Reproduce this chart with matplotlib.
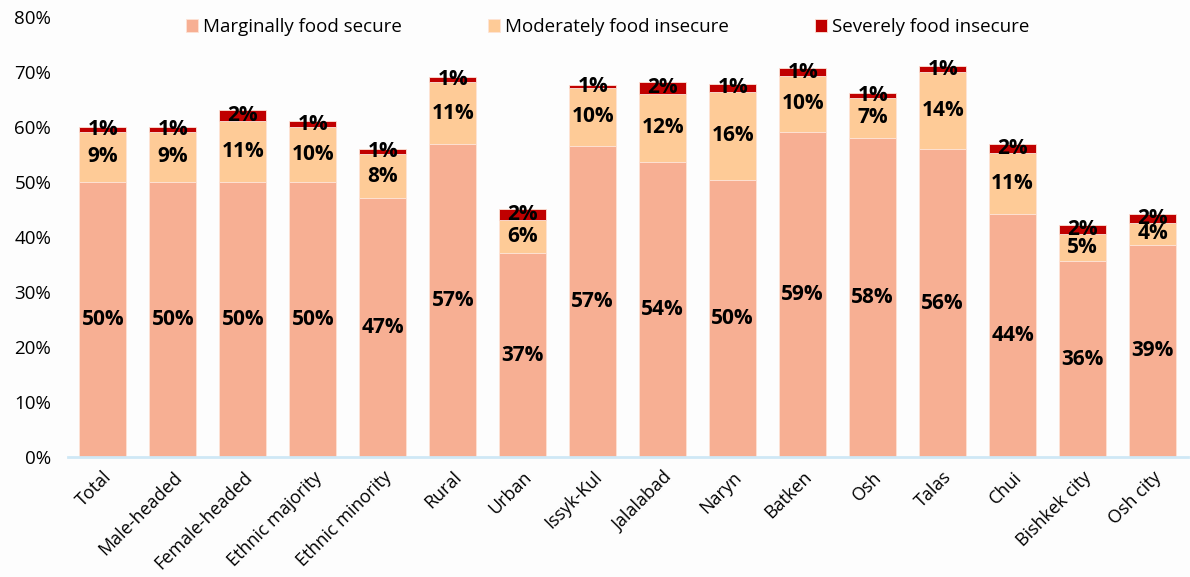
import matplotlib.pyplot as plt
import numpy as np

# === data ===
categories = ["Total", "Male-headed", "Female-headed", "Ethnic majority", "Ethnic minority",
              "Rural", "Urban", "Issyk-Kul", "Jalalabad", "Naryn", "Batken", "Osh",
              "Talas", "Chui", "Bishkek city", "Osh city"]
marginal = [50.0, 50.0, 50.0, 50.0, 47.0, 56.9, 37.0, 56.6, 53.6, 50.4, 59.1, 57.9, 55.9, 44.2, 35.6, 38.6]
moderate = [9.1, 9.1, 11.1, 10.0, 8.0, 11.2, 6.0, 10.4, 12.4, 16.0, 10.1, 7.4, 14.1, 11.1, 4.9, 4.0]
severe = [0.9, 0.9, 1.9, 1.0, 1.0, 1.0, 2.0, 0.6, 2.1, 1.4, 1.4, 0.9, 1.0, 1.6, 1.6, 1.6]
series_names = ["Marginally food secure", "Moderately food insecure", "Severely food insecure"]
colors = ["#F7AF93", "#FECB97", "#C00000"]

plt.rcParams['font.family'] = ['Open Sans', 'DejaVu Sans']

fig = plt.figure(figsize=(11.9, 5.77), dpi=100, facecolor="#fdfdfd")
ax = fig.add_axes([0.057, 0.208, 0.941, 0.763])
ax.set_facecolor("#fdfdfd")

x = np.arange(len(categories))
bottom = np.zeros(len(categories))
for vals, name, col in zip([marginal, moderate, severe], series_names, colors):
    vals = np.array(vals) / 100
    ax.bar(x, vals, 0.67, bottom=bottom, color=col, label=name,
           edgecolor="#fde3d6", linewidth=0.6)
    for xi, b, v in zip(x, bottom, vals):
        ax.text(xi, b + v / 2, f"{round(v * 100):.0f}%", ha="center", va="center",
                fontsize=15, fontweight="bold", color="black")
    bottom = bottom + vals

# === axes ===
ax.set_xlim(-0.5, 15.5)
ax.set_ylim(0, 0.8)
ticks = np.arange(0, 0.81, 0.1)
ax.set_yticks(ticks)
ax.set_yticklabels([f"{int(round(t * 100))}%" for t in ticks], fontsize=13.5)
ax.set_xticks(x)
ax.set_xticklabels(categories, rotation=45, ha="right", rotation_mode="anchor", fontsize=13)
ax.tick_params(axis="x", length=0, pad=8)
ax.tick_params(axis="y", length=0, pad=12)
for s in ["top", "right", "left"]:
    ax.spines[s].set_visible(False)
ax.spines["bottom"].set_color("#cfe8f6")
ax.spines["bottom"].set_linewidth(2)

ax.legend(loc="upper center", bbox_to_anchor=(0.482, 1.035), ncol=3, frameon=False,
          fontsize=13.5, handlelength=0.65, handleheight=0.65, handletextpad=0.25,
          columnspacing=4.6)

plt.savefig("out.png", dpi=100, facecolor=fig.get_facecolor())
